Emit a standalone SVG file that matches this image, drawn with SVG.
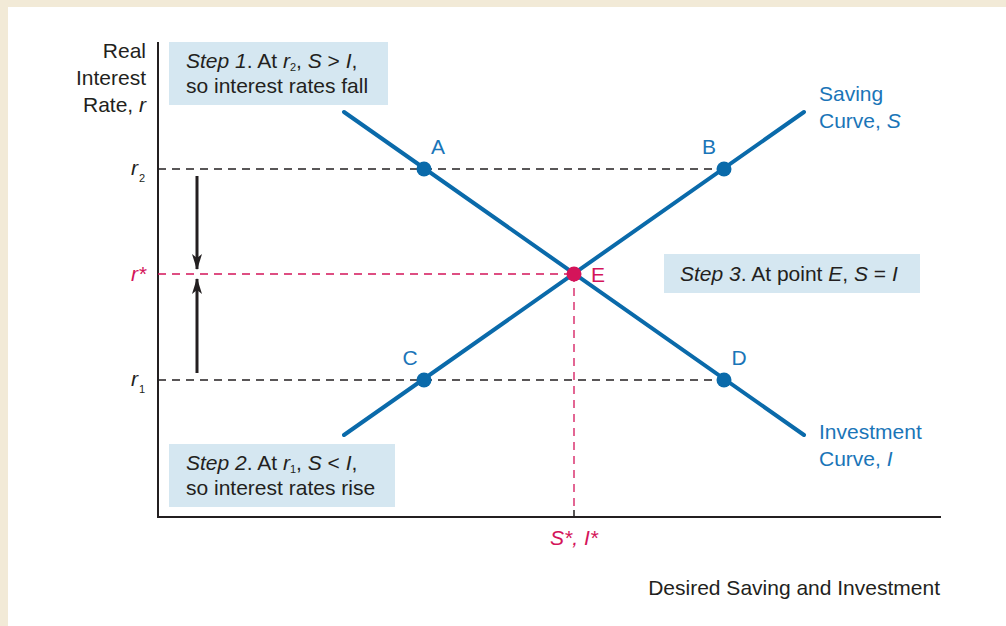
<svg xmlns="http://www.w3.org/2000/svg" width="1006" height="626" viewBox="0 0 1006 626">
<defs>
<style>
text{font-family:"Liberation Sans",Arial,sans-serif;font-size:21px;fill:#231f20}
.blue{fill:#1a75b8}
.pink{fill:#d4145a}
.it{font-style:italic}
.box{fill:#d5e7f1}
.axis{stroke:#231f20;stroke-width:2;fill:none}
.dash{stroke:#231f20;stroke-width:1.3;stroke-dasharray:8,6;fill:none}
.dashp{stroke:#d4145a;stroke-width:1.3;stroke-dasharray:8,6;fill:none}
.curve{stroke:#0a6aaa;stroke-width:4;stroke-linecap:round;fill:none}
.dot{fill:#0a6aaa}
.arr{stroke:#231f20;stroke-width:3;fill:none}
.sub{font-size:11px}
</style>
<marker id="ah" viewBox="0 0 16 10" refX="15" refY="5" markerWidth="16" markerHeight="10" orient="auto" markerUnits="userSpaceOnUse">
<path d="M0,0 L16,5 L0,10 L4,5 Z" fill="#231f20"/>
</marker>
</defs>
<rect width="1006" height="626" fill="#f2ead7"/>
<rect x="8" y="7" width="998" height="619" fill="#ffffff"/>

<g id="axes">
<path class="axis" d="M158,42 V517 H941"/>
<line x1="574" y1="510" x2="574" y2="517" stroke="#231f20" stroke-width="1.5"/>
</g>

<g id="connectors">
<line class="dash" x1="158" y1="169" x2="724" y2="169"/>
<line class="dash" x1="158" y1="380" x2="724" y2="380"/>
<line class="dashp" x1="158" y1="274" x2="574" y2="274"/>
<line class="dashp" x1="574" y1="274" x2="574" y2="512"/>
<line class="arr" x1="197" y1="176" x2="197" y2="269" marker-end="url(#ah)"/>
<line class="arr" x1="197" y1="373" x2="197" y2="279" marker-end="url(#ah)"/>
</g>

<g id="investment-curve">
<line class="curve" x1="344" y1="112" x2="804" y2="435"/>
<text class="blue" x="819" y="439">Investment</text>
<text class="blue" x="819" y="466">Curve, <tspan class="it">I</tspan></text>
</g>
<g id="saving-curve">
<line class="curve" x1="344" y1="435" x2="804" y2="112"/>
<text class="blue" x="819" y="101">Saving</text>
<text class="blue" x="819" y="128">Curve, <tspan class="it">S</tspan></text>
</g>

<g id="point-A"><circle class="dot" cx="424" cy="169" r="7.5"/><text class="blue" x="438" y="154" text-anchor="middle">A</text></g>
<g id="point-B"><circle class="dot" cx="724" cy="169" r="7.5"/><text class="blue" x="709" y="154" text-anchor="middle">B</text></g>
<g id="point-C"><circle class="dot" cx="424" cy="380" r="7.5"/><text class="blue" x="410" y="365" text-anchor="middle">C</text></g>
<g id="point-D"><circle class="dot" cx="724" cy="380" r="7.5"/><text class="blue" x="739" y="365" text-anchor="middle">D</text></g>
<g id="point-E"><circle cx="574" cy="274" r="7.5" fill="#d4145a"/><text class="pink" x="591" y="282">E</text></g>

<g id="y-label">
<text x="146" y="58" text-anchor="end">Real</text>
<text x="146" y="85" text-anchor="end">Interest</text>
<text x="146" y="112" text-anchor="end">Rate, <tspan class="it">r</tspan></text>
</g>
<g id="tick-labels">
<text class="it" x="131" y="175">r</text><text class="sub" x="139" y="182">2</text>
<text class="it pink" x="131" y="281">r*</text>
<text class="it" x="131" y="386">r</text><text class="sub" x="139" y="393">1</text>
<text class="pink it" x="574" y="545" text-anchor="middle">S*, I*</text>
<text x="940" y="595" text-anchor="end">Desired Saving and Investment</text>
</g>

<g id="step1">
<rect class="box" x="169" y="42" width="219" height="63"/>
<text x="186" y="68"><tspan class="it">Step 1</tspan>. At <tspan class="it">r</tspan><tspan class="sub" dy="3">2</tspan><tspan dy="-3">, </tspan><tspan class="it">S</tspan> &gt; <tspan class="it">I</tspan>,</text>
<text x="186" y="93">so interest rates fall</text>
</g>
<g id="step2">
<rect class="box" x="169" y="444" width="226" height="63"/>
<text x="186" y="470"><tspan class="it">Step 2</tspan>. At <tspan class="it">r</tspan><tspan class="sub" dy="3">1</tspan><tspan dy="-3">, </tspan><tspan class="it">S</tspan> &lt; <tspan class="it">I</tspan>,</text>
<text x="186" y="495">so interest rates rise</text>
</g>
<g id="step3">
<rect class="box" x="664" y="254" width="256" height="39"/>
<text x="680" y="281"><tspan class="it">Step 3</tspan>. At point <tspan class="it">E</tspan>, <tspan class="it">S</tspan> = <tspan class="it">I</tspan></text>
</g>
</svg>
